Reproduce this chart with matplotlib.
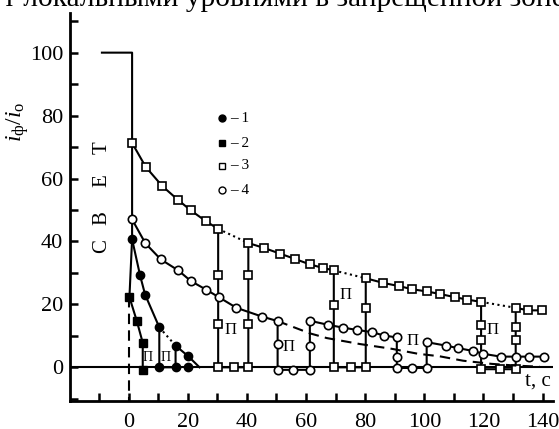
import numpy as np
import matplotlib
matplotlib.use("Agg")
import matplotlib.pyplot as plt
from matplotlib.ticker import MultipleLocator

# ---- data ----
# light switched on before t = 0, off at t ~ 1 s
t_light = [-9.0, 1.2, 1.2, 0.3]
y_light = [100.0, 100.0, 40.7, 22.3]

# curve 1 (filled circles)
t1 = [1.2, 3.9, 5.6, 10.4, 10.4, 15.9, 15.9, 20.2, 24.0]
y1 = [40.7, 29.2, 23.1, 12.7, 0.0, 0.0, 6.9, 3.5, 0.0]
t1_zero = [20.2]
t1_dot = [10.4, 15.9]
y1_dot = [12.7, 6.9]

# curve 2 (filled squares)
t2 = [0.3, 2.8, 4.8, 4.8]
y2 = [22.3, 14.7, 7.8, -0.9]

# curve 3 (open squares), pauses drawn as vertical drops
t3 = [1.2, 5.8, 11.4, 16.6, 21.0, 26.2, 30.3, 30.3, 30.3, 30.3, 35.7, 40.5,
      40.5, 40.5, 40.5, 45.9, 51.3, 56.4, 61.3, 65.7, 69.4, 69.4, 69.4, 75.2,
      80.2, 80.2, 80.2, 86.2, 91.5, 96.0, 100.9, 105.3, 110.3, 114.6, 119.2,
      119.2, 119.2, 119.2, 125.6, 130.9, 130.9, 130.9, 130.9, 135.2, 139.8]
y3 = [71.3, 63.7, 57.6, 53.3, 49.9, 46.4, 44.0, 29.4, 13.8, 0.0, 0.0, 0.0,
      13.8, 29.4, 39.5, 37.9, 36.1, 34.4, 32.7, 31.6, 30.8, 19.9, 0.0, 0.0,
      0.0, 18.9, 28.3, 26.8, 25.8, 24.8, 24.1, 23.3, 22.3, 21.5, 20.8,
      13.6, 8.7, -0.6, -0.6, -0.6, 8.7, 12.8, 18.9, 18.1, 18.1]
t3_dot = [[30.3, 40.5], [69.4, 80.2], [119.2, 130.9]]
y3_dot = [[44.0, 39.5], [30.8, 28.3], [20.8, 18.9]]

# curve 4 (open circles)
t4 = [1.2, 5.7, 10.9, 16.8, 21.1, 26.2, 30.5, 36.5, 45.2, 50.4, 50.4, 50.4,
      55.5, 61.3, 61.3, 61.3, 67.5, 72.6, 77.1, 82.2, 86.4, 90.7, 90.7, 90.7,
      96.0, 100.8, 100.8, 107.3, 111.4, 116.5, 119.9, 125.8, 131.0, 135.3, 140.6]
y4 = [47.0, 39.4, 34.3, 30.8, 27.4, 24.7, 22.3, 18.9, 16.1, 14.7, 7.5, -0.8,
      -0.8, -0.8, 6.9, 14.8, 13.5, 12.6, 11.9, 11.2, 10.1, 9.5, 3.3, -0.2,
      -0.2, -0.2, 8.0, 6.9, 6.1, 5.2, 4.3, 3.4, 3.4, 3.4, 3.4]
# dashed: decay without pauses
t4_dash = [50.4, 61.3, 67.0, 78.2, 88.9, 97.9, 105.2, 113.1, 122.7, 131.7, 139.0]
y4_dash = [14.7, 10.8, 9.3, 7.4, 5.9, 4.3, 3.5, 2.1, 1.1, 0.5, 0.2]

pause_t = [34.5, 54.0, 73.5, 96.0, 123.0]
pause_y = [12.0, 6.5, 23.0, 8.5, 12.0]
pause_small_t = [6.6, 12.4]
pause_small_y = [3.0, 3.0]

light_letters = ["С", "В", "Е", "Т"]
light_letters_y = [38.4, 47.3, 59.4, 69.9]

legend_labels = ["– 1", "– 2", "– 3", "– 4"]
legend_y = [79.1, 71.2, 64.0, 56.3]


def main():
    plt.rcParams['font.family'] = "Liberation Serif"
    plt.rcParams['mathtext.fontset'] = "custom"
    plt.rcParams['mathtext.rm'] = "Liberation Serif"
    plt.rcParams['mathtext.it'] = "Liberation Serif:italic"
    plt.rcParams['font.size'] = 16

    fig = plt.figure(figsize=(5.59, 4.29), dpi=100)
    ax = fig.add_axes([0.1252, 0.0653, 0.864, 0.9044])
    lw = 1.5
    ms = 6

    # baseline and light pulse
    ax.axhline(0, color="k", lw=lw)
    ax.plot(t_light, y_light, "-k", lw=lw)
    ax.plot([0, 0], [y2[0], -11], color="k", lw=lw, dashes=(5, 3))

    # curve 1
    ax.plot(t1, y1, "-k", lw=lw)
    ax.plot(t1_dot, y1_dot, ":k", lw=lw)
    ax.plot(t1[:-1] + t1_zero, y1[:-1] + [0.0], "ko", ms=ms, ls="none")

    # curve 2
    ax.plot(t2, y2, "-ks", lw=lw, ms=ms)

    # curve 3
    for tt, yy in zip(t3_dot, y3_dot):
        ax.plot(tt, yy, ":k", lw=lw)
    ax.plot(t3, y3, "-k", lw=lw, marker="s", ms=ms, mfc="white", mec="k", mew=1.2)

    # curve 4
    ax.plot(t4_dash, y4_dash, color="k", lw=lw, dashes=(5, 3))
    ax.plot(t4, y4, "-k", lw=lw, marker="o", ms=ms, mfc="white", mec="k", mew=1.2)

    for x, y in zip(pause_t, pause_y):
        ax.text(x, y, "П", fontsize=12, ha="center", va="center")
    for x, y in zip(pause_small_t, pause_small_y):
        ax.text(x, y, "П", fontsize=10, ha="center", va="center")

    for ch, y in zip(light_letters, light_letters_y):
        ax.text(-9.0, y, ch, fontsize=15, rotation=90, ha="center", va="center")

    # hand drawn legend
    styles = [dict(marker="o", mfc="k"), dict(marker="s", mfc="k"),
              dict(marker="s", mfc="white"), dict(marker="o", mfc="white")]
    for st, lab, y in zip(styles, legend_labels, legend_y):
        ax.plot([31.5], [y], ls="none", ms=5, mec="k", mew=1.0, **st)
        ax.text(34.3, y, lab, fontsize=11, va="center", ha="left")

    ax.text(138.5, -4.5, "t, c", fontsize=15, ha="center", va="center")

    ax.set_xlim(-19.8, 143.5)
    ax.set_ylim(-10.7, 112.6)
    ax.spines['top'].set_visible(False)
    ax.spines['right'].set_visible(False)
    ax.spines['left'].set_linewidth(2)
    ax.spines['bottom'].set_linewidth(2)
    ax.xaxis.set_minor_locator(MultipleLocator(10))
    ax.yaxis.set_minor_locator(MultipleLocator(10))
    ax.set_xticks(np.arange(0, 141, 20))
    ax.set_yticks(np.arange(0, 101, 20))
    ax.tick_params(which="both", direction="in", length=6, width=1.8, labelsize=16)
    ax.tick_params(axis="x", pad=9)
    ax.tick_params(axis="y", pad=5)

    fig.text(18 / 559, 1 - 122 / 429, r"$i_{\mathrm{ф}}/i_{\mathrm{o}}$",
             rotation=90, ha="center", va="center", fontsize=17)
    # page text above the figure, cropped at the top edge
    fig.text(0.005, 1 - 5.5 / 429, "т локальными уровнями в запрещенной зоне",
             fontsize=21.2, ha="left", va="baseline")

    fig.savefig("out.png", dpi=100)


if __name__ == "__main__":
    main()
